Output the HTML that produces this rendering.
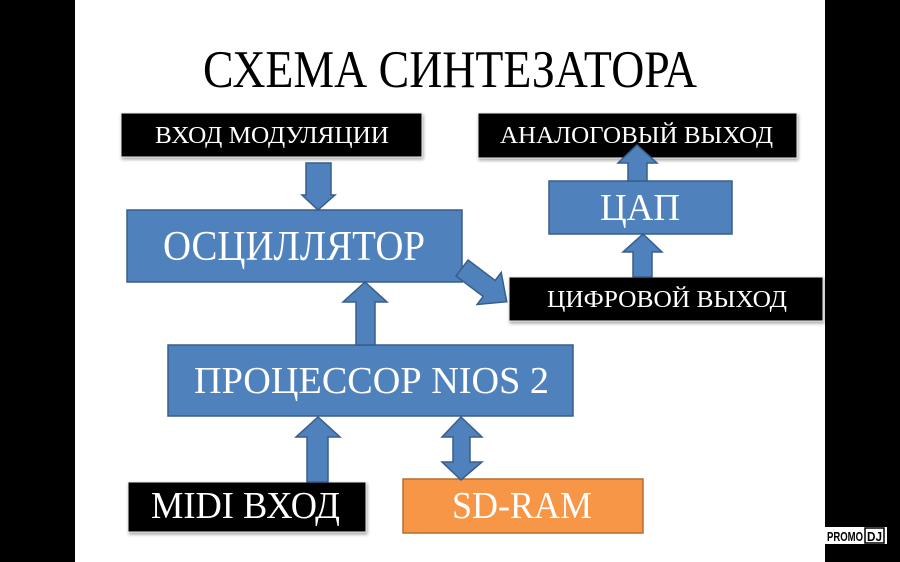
<!DOCTYPE html>
<html><head><meta charset="utf-8"><style>
html,body{margin:0;padding:0;background:#000;}
svg{display:block;}
text{font-family:"Liberation Serif",serif;fill:#fff;}
</style></head><body>
<svg width="900" height="562" viewBox="0 0 900 562" xmlns="http://www.w3.org/2000/svg">
<defs>
<filter id="sh" x="-10%" y="-10%" width="120%" height="140%">
<feDropShadow dx="1" dy="2" stdDeviation="1.5" flood-color="#000" flood-opacity="0.35"/>
</filter>
</defs>
<rect x="0" y="0" width="900" height="562" fill="#000"/>
<rect x="75" y="0" width="750" height="562" fill="#fff"/>
<!-- logo -->
<rect x="825" y="527" width="62" height="17" fill="#fff"/>
<text x="827" y="541" font-family="Liberation Sans,sans-serif" font-weight="bold" font-size="13" style="fill:#000;font-family:'Liberation Sans',sans-serif" textLength="36" lengthAdjust="spacingAndGlyphs">PROMO</text>
<rect x="865" y="528" width="19" height="15" fill="#fff" stroke="#000" stroke-width="1.5"/>
<text x="867" y="541" style="fill:#000;font-family:'Liberation Sans',sans-serif;font-weight:bold" font-size="13" textLength="15" lengthAdjust="spacingAndGlyphs">DJ</text>

<!-- title -->
<text x="203" y="87" font-size="53" style="fill:#000" textLength="494" lengthAdjust="spacingAndGlyphs">СХЕМА СИНТЕЗАТОРА</text>

<!-- black boxes -->
<g filter="url(#sh)">
<rect x="121" y="113" width="301" height="44" fill="#000" stroke="#eee" stroke-width="1"/>
<rect x="478" y="113" width="319" height="45" fill="#000" stroke="#eee" stroke-width="1"/>
<rect x="509" y="277" width="314" height="44" fill="#000" stroke="#eee" stroke-width="1"/>
<rect x="128" y="482" width="238" height="50" fill="#000" stroke="#eee" stroke-width="1"/>
</g>
<text x="155" y="143" font-size="24" textLength="234" lengthAdjust="spacingAndGlyphs">ВХОД МОДУЛЯЦИИ</text>
<text x="500" y="143" font-size="24" textLength="273" lengthAdjust="spacingAndGlyphs">АНАЛОГОВЫЙ ВЫХОД</text>
<text x="547" y="307" font-size="24" textLength="240" lengthAdjust="spacingAndGlyphs">ЦИФРОВОЙ ВЫХОД</text>
<text x="151" y="518" font-size="38" textLength="189" lengthAdjust="spacingAndGlyphs">MIDI ВХОД</text>

<!-- blue boxes -->
<g fill="#4f81bd" stroke="#385d8a" stroke-width="1.5">
<rect x="127" y="210" width="335" height="72"/>
<rect x="549" y="181" width="183" height="53"/>
<rect x="168" y="345" width="405" height="71"/>
</g>
<rect x="403" y="479" width="240" height="54" fill="#f79646" stroke="#b66d31" stroke-width="1.5"/>
<text x="163" y="260" font-size="42" textLength="262" lengthAdjust="spacingAndGlyphs">ОСЦИЛЛЯТОР</text>
<text x="600" y="220" font-size="38" textLength="80" lengthAdjust="spacingAndGlyphs">ЦАП</text>
<text x="194" y="393" font-size="38" textLength="355" lengthAdjust="spacingAndGlyphs">ПРОЦЕССОР NIOS 2</text>
<text x="452" y="518" font-size="38" textLength="140" lengthAdjust="spacingAndGlyphs">SD-RAM</text>

<!-- arrows -->
<g fill="#4f81bd" stroke="#385d8a" stroke-width="1.5" stroke-linejoin="miter">
<!-- modulation down -->
<polygon points="306,163 331,163 331,195 335,195 318,210 302,195 306,195"/>
<!-- processor up to osc -->
<polygon points="356,345 375,345 375,302 387,302 365,282 343,302 356,302"/>
<!-- DAC up to analog -->
<polygon points="628,181 647,181 647,163 657,163 637,145 618,163 628,163"/>
<!-- digital up to DAC -->
<polygon points="633,277 652,277 652,252 662,252 643,234 623,252 633,252"/>
<!-- diagonal -->
<g transform="translate(462,268) rotate(37)">
<polygon points="0,-10 34,-10 34,-20 56,0 34,20 34,10 0,10"/>
</g>
<!-- MIDI up -->
<polygon points="307,482 328,482 328,437 340,437 318,417 296,437 307,437"/>
<!-- double arrow -->
<polygon points="461,417 482,437 470,437 470,462 482,462 461,480 442,462 453,462 453,437 442,437"/>
</g>
</svg>
</body></html>
